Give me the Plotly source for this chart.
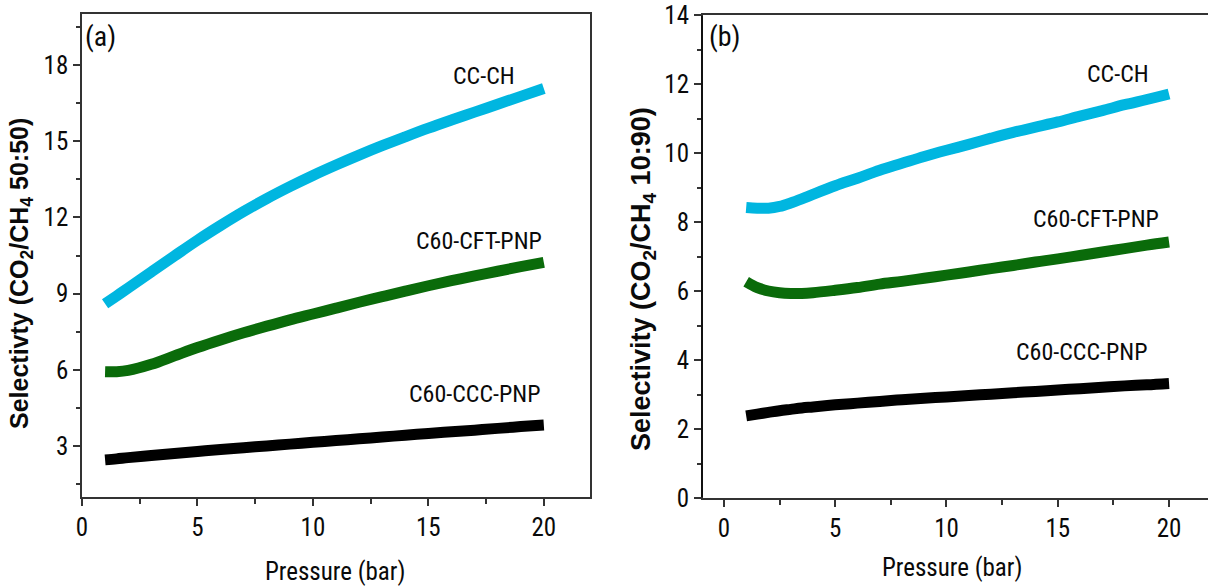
import plotly.graph_objects as go

# ---------------- data ----------------
pressure_a = [1, 1.5, 2, 3, 4, 5, 6, 7, 8, 9, 10, 11, 12, 13, 14, 15, 16, 17, 18, 19, 20]

# panel (a): CO2/CH4 50:50
a_cc_ch = [8.6, 8.91, 9.22, 9.85, 10.48, 11.1, 11.68, 12.23, 12.74, 13.21, 13.65, 14.06, 14.45,
           14.82, 15.17, 15.51, 15.83, 16.14, 16.45, 16.76, 17.07]
a_cft = [5.93, 5.93, 5.98, 6.22, 6.55, 6.88, 7.18, 7.46, 7.72, 7.97, 8.2, 8.43, 8.66, 8.88,
         9.1, 9.31, 9.51, 9.7, 9.88, 10.06, 10.23]
a_ccc = [2.46, 2.5, 2.55, 2.63, 2.71, 2.79, 2.87, 2.94, 3.01, 3.08, 3.15, 3.22, 3.29, 3.36,
         3.43, 3.5, 3.57, 3.63, 3.7, 3.77, 3.83]

# panel (b): CO2/CH4 10:90
pressure_b = [1, 1.5, 2, 2.5, 3, 3.5, 4, 5, 6, 7, 8, 9, 10, 11, 12, 13, 14, 15, 16, 17, 18, 19, 20]
b_cc_ch = [8.42, 8.4, 8.4, 8.45, 8.55, 8.67, 8.8, 9.05, 9.27, 9.5, 9.7, 9.9, 10.08, 10.25,
           10.43, 10.6, 10.75, 10.9, 11.07, 11.23, 11.4, 11.55, 11.71]
b_cft = [6.27, 6.1, 6.0, 5.95, 5.93, 5.93, 5.95, 6.02, 6.1, 6.2, 6.28, 6.37, 6.46, 6.55,
         6.65, 6.74, 6.84, 6.93, 7.03, 7.13, 7.23, 7.33, 7.42]
b_ccc = [2.38, 2.43, 2.48, 2.53, 2.57, 2.61, 2.64, 2.7, 2.75, 2.8, 2.85, 2.89, 2.93, 2.97,
         3.01, 3.05, 3.09, 3.13, 3.17, 3.21, 3.25, 3.28, 3.32]

series_names = ["CC-CH", "C60-CFT-PNP", "C60-CCC-PNP"]
series_colors = ["#00B6E0", "#0A6B0A", "#000000"]

# label anchor positions (data coords)
a_label_x = [17.4, 17.2, 17.0]
a_label_y = [17.56, 11.07, 5.05]
b_label_x = [17.7, 16.7, 16.1]
b_label_y = [12.3, 8.1, 4.23]

a_xticks = [0, 5, 10, 15, 20]
a_yticks = [3, 6, 9, 12, 15, 18]
b_xticks = [0, 5, 10, 15, 20]
b_yticks = [0, 2, 4, 6, 8, 10, 12, 14]

# ---------------- figure ----------------
W, H = 1208, 587
NARROW = "Roboto Condensed, DejaVu Sans Condensed, Liberation Sans Narrow, Arial Narrow, Roboto, sans-serif"
BOLD = "Liberation Sans, Arial, sans-serif"
TXT = "#0a0a0a"

fig = go.Figure()

for ys, name, col in zip([a_cc_ch, a_cft, a_ccc], series_names, series_colors):
    fig.add_trace(go.Scatter(x=pressure_a, y=ys, mode="lines", name=name,
                             line=dict(color=col, width=11, shape="spline"),
                             xaxis="x", yaxis="y", showlegend=False))
for ys, name, col in zip([b_cc_ch, b_cft, b_ccc], series_names, series_colors):
    fig.add_trace(go.Scatter(x=pressure_b, y=ys, mode="lines", name=name,
                             line=dict(color=col, width=11, shape="spline"),
                             xaxis="x2", yaxis="y2", showlegend=False))


def px_x(p):
    return p / W


def px_y(p):
    return 1 - p / H


axis_common = dict(showgrid=False, zeroline=False, showline=True, linecolor="#333333",
                   linewidth=1.5, ticks="outside", tickcolor="#333333", tickwidth=1.5,
                   ticklen=7, automargin=False,
                   tickfont=dict(family=NARROW, size=25, color=TXT))

fig.update_layout(
    template="none",
    width=W, height=H, margin=dict(l=0, r=0, t=0, b=0, pad=0),
    paper_bgcolor="white", plot_bgcolor="white",
    xaxis=dict(domain=[px_x(82), px_x(590)], range=[0, 22], tickvals=a_xticks,
               mirror=True, anchor="y",
               minor=dict(ticks="outside", dtick=2.5, tick0=0, ticklen=5,
                          tickcolor="#333333", tickwidth=1.5),
               **axis_common),
    yaxis=dict(domain=[px_y(497), px_y(14)], range=[1, 20], tickvals=a_yticks,
               mirror=True, anchor="x",
               minor=dict(ticks="outside", dtick=1.5, tick0=0, ticklen=4,
                          tickcolor="#333333", tickwidth=1.5),
               **axis_common),
    xaxis2=dict(domain=[px_x(703), 1.0], range=[-0.94, 21.75], tickvals=b_xticks,
                mirror=True, anchor="y2",
                minor=dict(ticks="outside", dtick=2.5, tick0=0, ticklen=5,
                           tickcolor="#333333", tickwidth=1.5),
                **axis_common),
    yaxis2=dict(domain=[px_y(498), px_y(15)], range=[0, 14], tickvals=b_yticks,
                mirror=False, anchor="x2",
                minor=dict(ticks="outside", dtick=1, tick0=0, ticklen=4,
                           tickcolor="#333333", tickwidth=1.5),
                **axis_common),
)
fig.layout.yaxis2.linecolor = "#111111"
fig.layout.yaxis2.linewidth = 2

# small extensions of the (b) frame left of the y axis
for yy in [498, 15]:
    fig.add_shape(type="line", xref="paper", yref="paper",
                  x0=px_x(695), x1=px_x(703), y0=px_y(yy), y1=px_y(yy),
                  line=dict(color="#333333", width=1.5))

# series labels
for name, lx, ly in zip(series_names, a_label_x, a_label_y):
    fig.add_annotation(x=lx, y=ly, xref="x", yref="y", text=name, showarrow=False,
                       xanchor="center", yanchor="middle",
                       font=dict(family=NARROW, size=24, color=TXT))
for name, lx, ly in zip(series_names, b_label_x, b_label_y):
    fig.add_annotation(x=lx, y=ly, xref="x2", yref="y2", text=name, showarrow=False,
                       xanchor="center", yanchor="middle",
                       font=dict(family=NARROW, size=24, color=TXT))

# panel letters
for lbl, cx in [("(a)", 100), ("(b)", 725)]:
    fig.add_annotation(x=px_x(cx), y=px_y(37), xref="paper", yref="paper", text=lbl,
                       showarrow=False, xanchor="center", yanchor="middle",
                       font=dict(family=NARROW, size=28, color=TXT))

# axis titles
for cx, cy in [(335, 571), (952, 567)]:
    fig.add_annotation(x=px_x(cx), y=px_y(cy), xref="paper", yref="paper",
                       text="Pressure (bar)", showarrow=False,
                       xanchor="center", yanchor="middle",
                       font=dict(family=NARROW, size=25, color=TXT))
fig.add_annotation(x=px_x(21), y=px_y(274), xref="paper", yref="paper", textangle=-90,
                   text="<b>Selectivty (CO<sub>2</sub>/CH<sub>4</sub> 50:50)</b>",
                   showarrow=False, xanchor="center", yanchor="middle",
                   font=dict(family=BOLD, size=25, color=TXT))
fig.add_annotation(x=px_x(643), y=px_y(279), xref="paper", yref="paper", textangle=-90,
                   text="<b>Selectivity (CO<sub>2</sub>/CH<sub>4</sub> 10:90)</b>",
                   showarrow=False, xanchor="center", yanchor="middle",
                   font=dict(family=BOLD, size=27, color=TXT))

fig.write_html("out.html", config={"displayModeBar": False},
               post_script="document.body.style.margin='0px';")
